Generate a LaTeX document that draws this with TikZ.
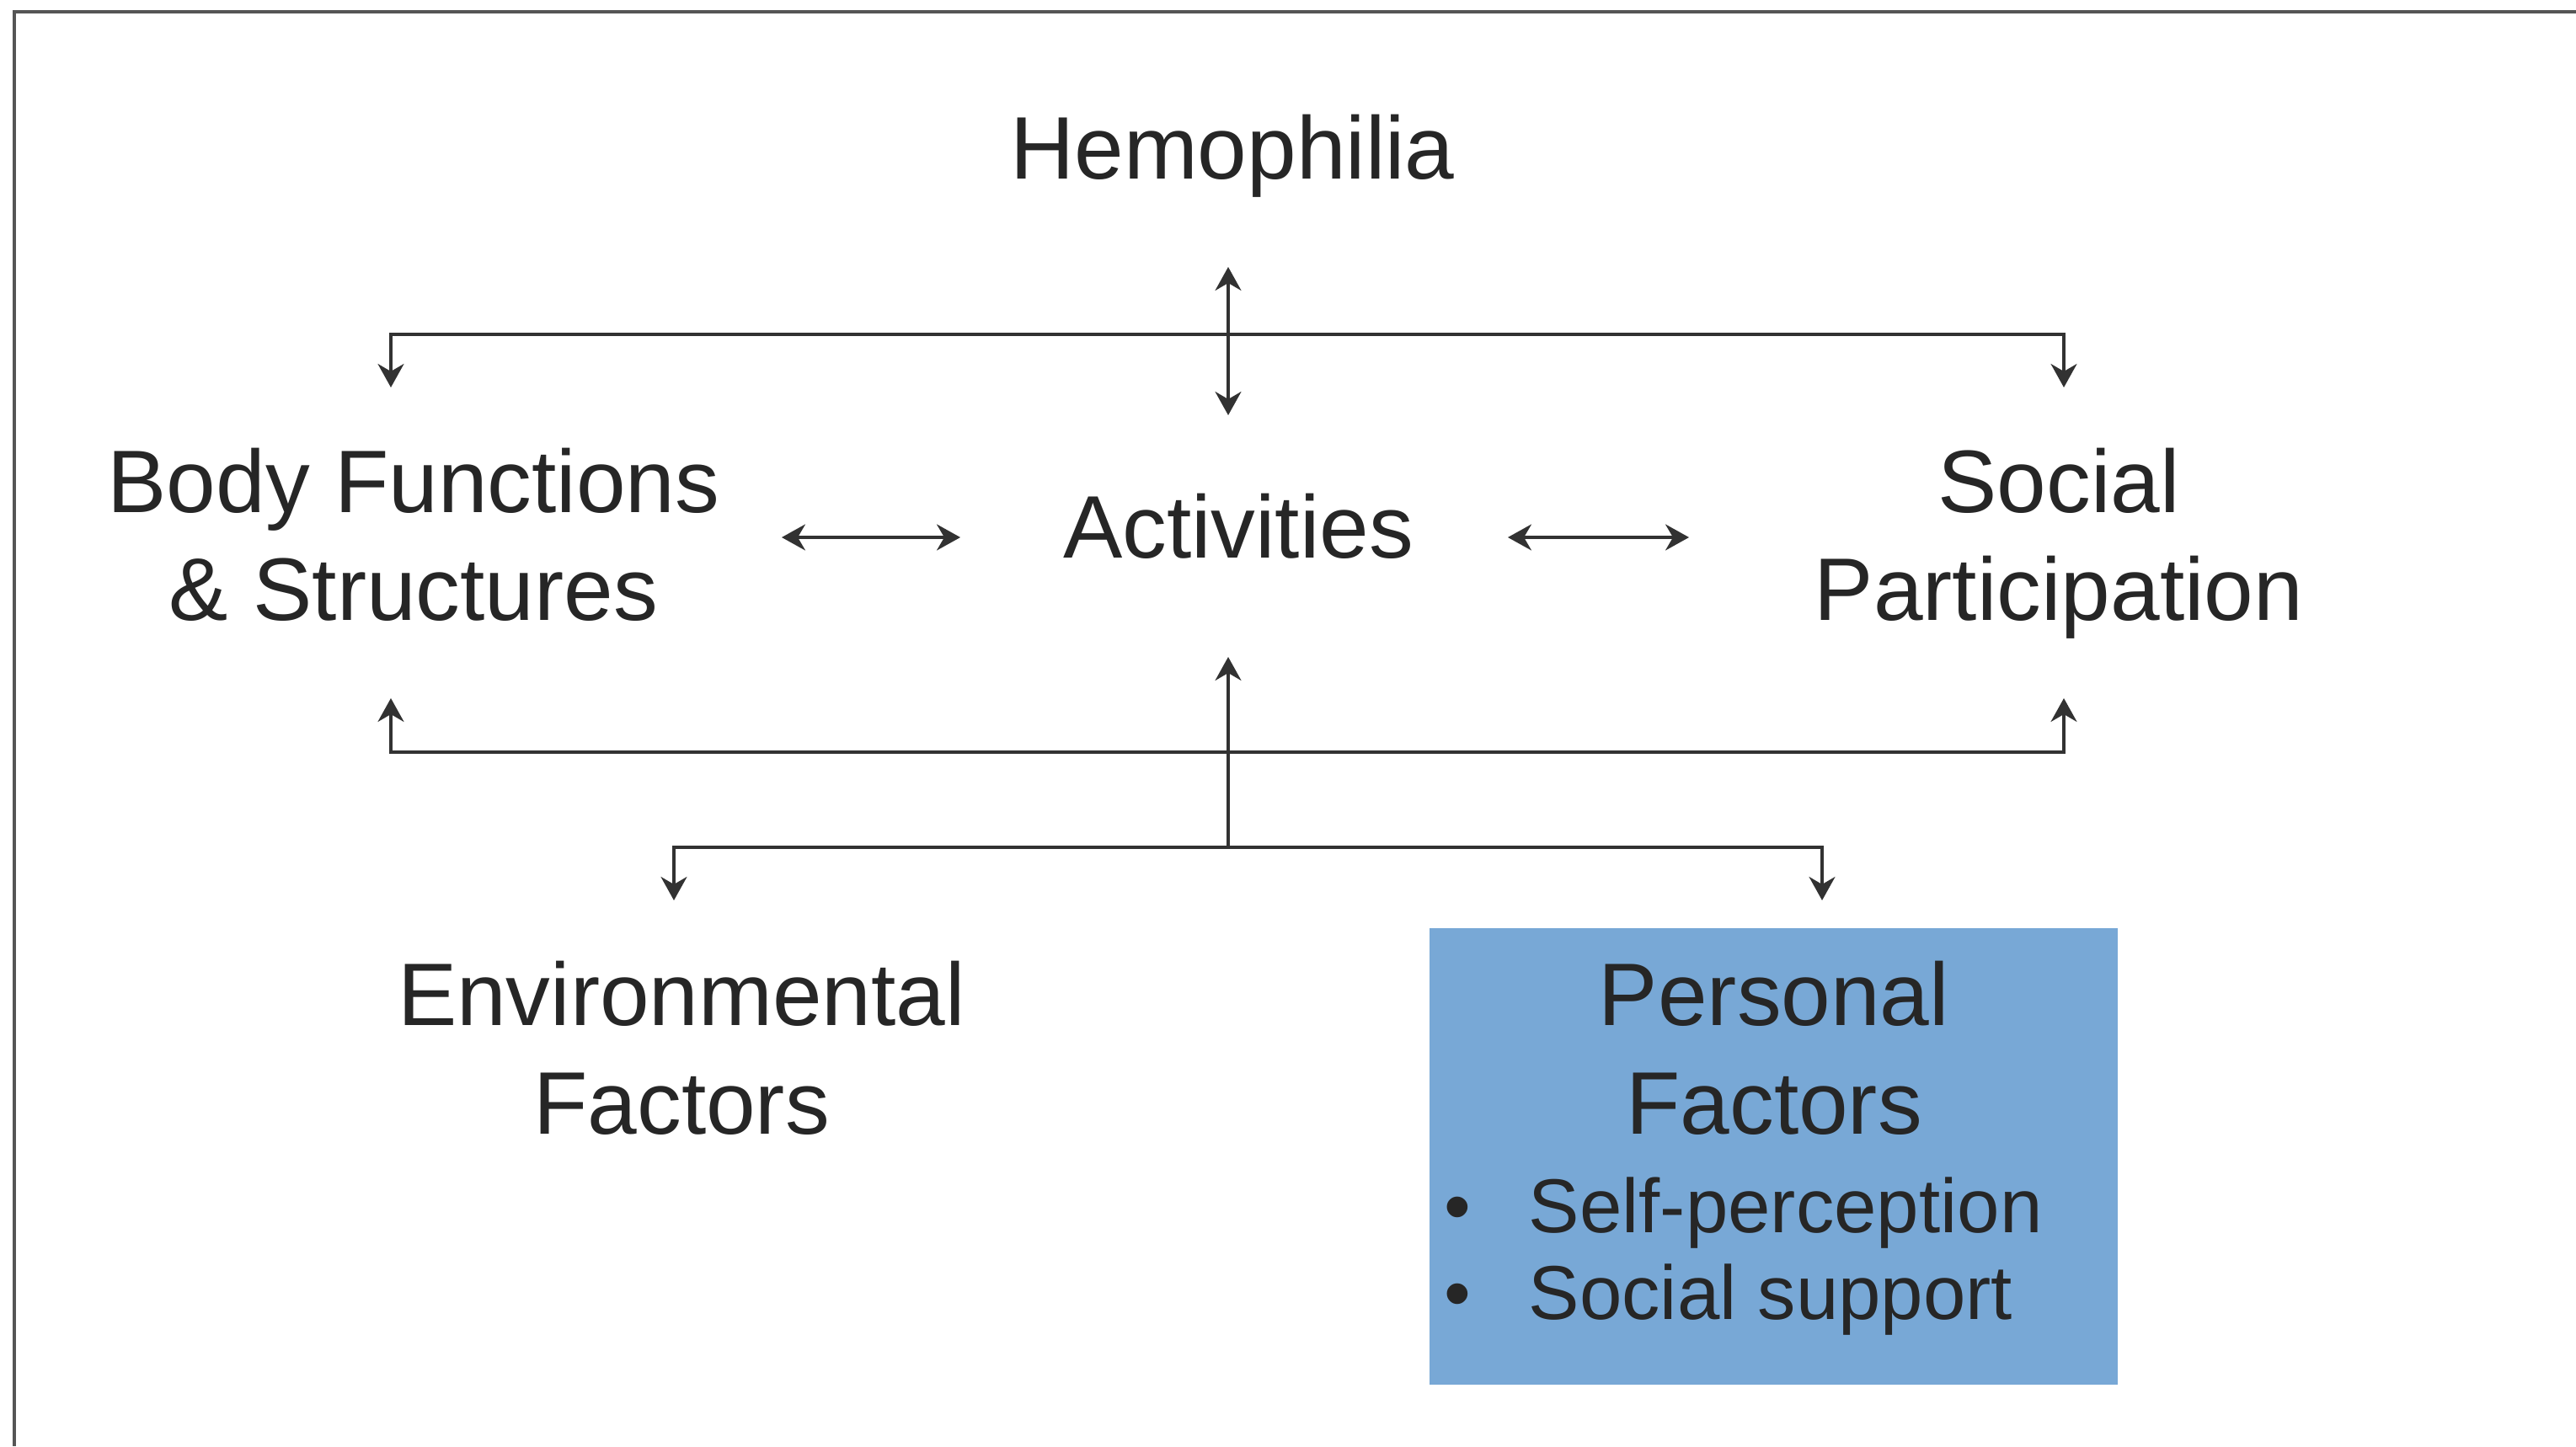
\documentclass[tikz,border=0pt]{standalone}
\usepackage{fontspec}
\setmainfont{Liberation Sans}
\usetikzlibrary{arrows.meta}

\definecolor{inkgray}{RGB}{38,38,38}
\definecolor{linegray}{RGB}{50,50,50}
\definecolor{framegray}{RGB}{85,85,85}
\definecolor{pfblue}{RGB}{120,168,214}

\begin{document}
\begin{tikzpicture}[
  termtext/.style={align=center, text=inkgray, inner sep=0pt, font=\fontsize{30}{36.5}\selectfont},
  itemtext/.style={text=inkgray, inner sep=0pt, font=\fontsize{25.8}{30}\selectfont},
  pfbox/.style={fill=pfblue, draw=none, minimum width=8.17cm, minimum height=5.42cm, inner sep=0pt},
  edge/.style={-{Stealth[length=2.8mm,width=3.1mm,inset=0.9mm]}, line width=0.9pt, draw=linegray},
  dedge/.style={{Stealth[length=2.8mm,width=3.1mm,inset=0.9mm]}-{Stealth[length=2.8mm,width=3.1mm,inset=0.9mm]}, line width=0.9pt, draw=linegray}
]
\useasboundingbox (0,0) rectangle (30.58,17.17);
\draw[line width=0.9pt, draw=framegray] (0.17,0) -- (0.17,17.03) -- (30.58,17.03);

% terms (base = last line)
\node[termtext, anchor=base] (hemo) at (14.63,15.04) {Hemophilia};
\node[termtext, anchor=base] (body) at (4.91,9.80) {Body Functions\\\& Structures};
\node[termtext, anchor=base] (act) at (14.70,10.54) {Activities};
\node[termtext, anchor=base] (part) at (24.44,9.80) {Social\\Participation};
\node[termtext, anchor=base] (env) at (8.09,3.71) {Environmental\\Factors};

\node[pfbox] (pfbg) at (21.055,3.44) {};
\node[termtext, anchor=base] (pers) at (21.06,3.71) {Personal\\Factors};
\node[itemtext, anchor=base] (dot1) at (17.30,2.54) {•};
\node[itemtext, anchor=base west] (self) at (18.14,2.54) {Self-perception};
\node[itemtext, anchor=base] (dot2) at (17.30,1.51) {•};
\node[itemtext, anchor=base west] (supp) at (18.14,1.51) {Social support};

% arrow ends around the top row
\coordinate (hemoin) at (14.58,14.00);
\coordinate (actin) at (14.58,12.24);
\coordinate (tophub) at (14.58,13.20);
\coordinate (bodyin) at (4.64,12.57);
\coordinate (partin) at (24.50,12.57);

\coordinate (bodyr) at (9.28,10.79);
\coordinate (actl) at (11.40,10.79);
\coordinate (actr) at (17.90,10.79);
\coordinate (partl) at (20.05,10.79);

% arrow ends around the bottom row
\coordinate (actbot) at (14.58,9.37);
\coordinate (lowhub) at (14.58,7.11);
\coordinate (midhub) at (14.58,8.24);
\coordinate (bodybot) at (4.64,8.88);
\coordinate (partbot) at (24.50,8.88);
\coordinate (envin) at (8.00,6.48);
\coordinate (persin) at (21.63,6.48);

\draw[dedge] (hemoin) -- (actin);
\draw[edge] (tophub) -| (bodyin);
\draw[edge] (tophub) -| (partin);
\draw[dedge] (bodyr) -- (actl);
\draw[dedge] (actr) -- (partl);

\draw[edge] (lowhub) -- (actbot);
\draw[edge] (midhub) -| (bodybot);
\draw[edge] (midhub) -| (partbot);
\draw[edge] (lowhub) -| (envin);
\draw[edge] (lowhub) -| (persin);
\end{tikzpicture}
\end{document}
